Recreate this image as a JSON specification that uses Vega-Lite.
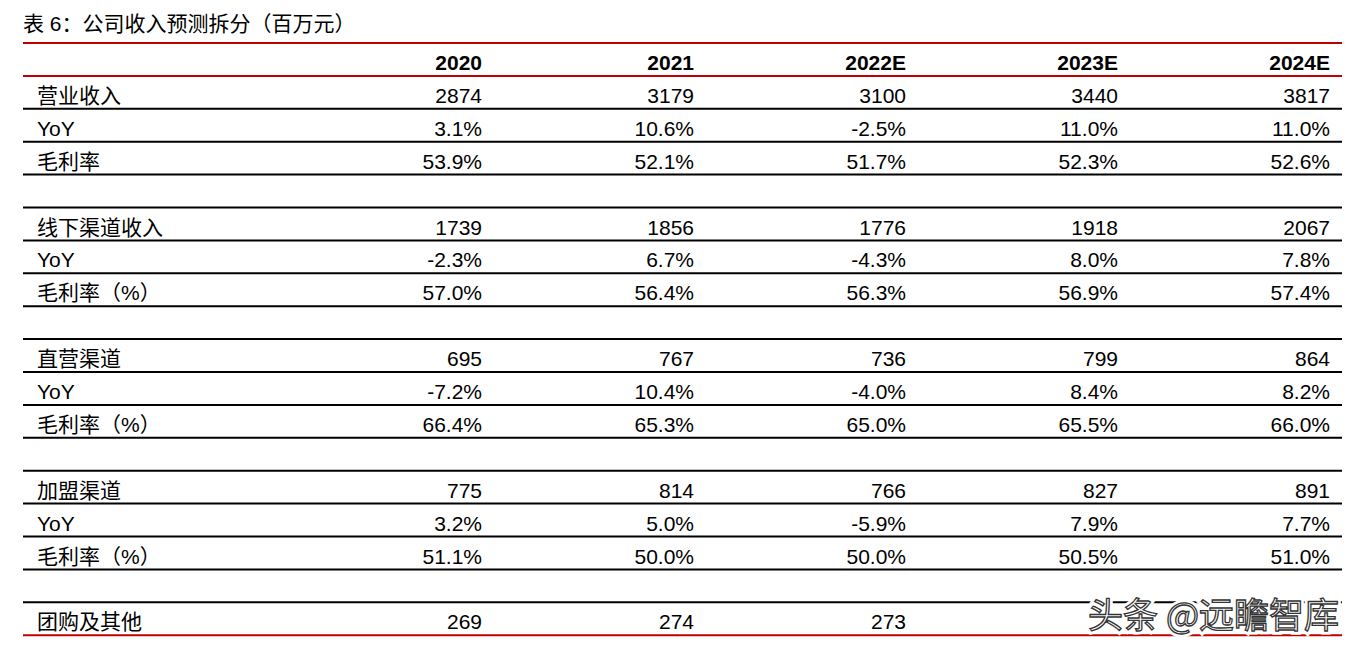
{
  "$schema": "https://vega.github.io/schema/vega-lite/v6.json",
  "width": 1359,
  "height": 654,
  "autosize": {"type": "fit", "contains": "padding"},
  "padding": {"left": 22, "right": 16, "top": 0, "bottom": 0},
  "background": "white",
  "config": {"view": {"stroke": null}},
  "datasets": {
    "columns": [
      {"year": "2020", "col": 1},
      {"year": "2021", "col": 2},
      {"year": "2022E", "col": 3},
      {"year": "2023E", "col": 4},
      {"year": "2024E", "col": 5}
    ],
    "items": [
      {"row": 1, "item": "营业收入"},
      {"row": 2, "item": "YoY"},
      {"row": 3, "item": "毛利率"},
      {"row": 5, "item": "线下渠道收入"},
      {"row": 6, "item": "YoY"},
      {"row": 7, "item": "毛利率（%）"},
      {"row": 9, "item": "直营渠道"},
      {"row": 10, "item": "YoY"},
      {"row": 11, "item": "毛利率（%）"},
      {"row": 13, "item": "加盟渠道"},
      {"row": 14, "item": "YoY"},
      {"row": 15, "item": "毛利率（%）"},
      {"row": 17, "item": "团购及其他"}
    ],
    "cells": [
      {"row": 1, "year": "2020", "value": "2874"},
      {"row": 1, "year": "2021", "value": "3179"},
      {"row": 1, "year": "2022E", "value": "3100"},
      {"row": 1, "year": "2023E", "value": "3440"},
      {"row": 1, "year": "2024E", "value": "3817"},
      {"row": 2, "year": "2020", "value": "3.1%"},
      {"row": 2, "year": "2021", "value": "10.6%"},
      {"row": 2, "year": "2022E", "value": "-2.5%"},
      {"row": 2, "year": "2023E", "value": "11.0%"},
      {"row": 2, "year": "2024E", "value": "11.0%"},
      {"row": 3, "year": "2020", "value": "53.9%"},
      {"row": 3, "year": "2021", "value": "52.1%"},
      {"row": 3, "year": "2022E", "value": "51.7%"},
      {"row": 3, "year": "2023E", "value": "52.3%"},
      {"row": 3, "year": "2024E", "value": "52.6%"},
      {"row": 5, "year": "2020", "value": "1739"},
      {"row": 5, "year": "2021", "value": "1856"},
      {"row": 5, "year": "2022E", "value": "1776"},
      {"row": 5, "year": "2023E", "value": "1918"},
      {"row": 5, "year": "2024E", "value": "2067"},
      {"row": 6, "year": "2020", "value": "-2.3%"},
      {"row": 6, "year": "2021", "value": "6.7%"},
      {"row": 6, "year": "2022E", "value": "-4.3%"},
      {"row": 6, "year": "2023E", "value": "8.0%"},
      {"row": 6, "year": "2024E", "value": "7.8%"},
      {"row": 7, "year": "2020", "value": "57.0%"},
      {"row": 7, "year": "2021", "value": "56.4%"},
      {"row": 7, "year": "2022E", "value": "56.3%"},
      {"row": 7, "year": "2023E", "value": "56.9%"},
      {"row": 7, "year": "2024E", "value": "57.4%"},
      {"row": 9, "year": "2020", "value": "695"},
      {"row": 9, "year": "2021", "value": "767"},
      {"row": 9, "year": "2022E", "value": "736"},
      {"row": 9, "year": "2023E", "value": "799"},
      {"row": 9, "year": "2024E", "value": "864"},
      {"row": 10, "year": "2020", "value": "-7.2%"},
      {"row": 10, "year": "2021", "value": "10.4%"},
      {"row": 10, "year": "2022E", "value": "-4.0%"},
      {"row": 10, "year": "2023E", "value": "8.4%"},
      {"row": 10, "year": "2024E", "value": "8.2%"},
      {"row": 11, "year": "2020", "value": "66.4%"},
      {"row": 11, "year": "2021", "value": "65.3%"},
      {"row": 11, "year": "2022E", "value": "65.0%"},
      {"row": 11, "year": "2023E", "value": "65.5%"},
      {"row": 11, "year": "2024E", "value": "66.0%"},
      {"row": 13, "year": "2020", "value": "775"},
      {"row": 13, "year": "2021", "value": "814"},
      {"row": 13, "year": "2022E", "value": "766"},
      {"row": 13, "year": "2023E", "value": "827"},
      {"row": 13, "year": "2024E", "value": "891"},
      {"row": 14, "year": "2020", "value": "3.2%"},
      {"row": 14, "year": "2021", "value": "5.0%"},
      {"row": 14, "year": "2022E", "value": "-5.9%"},
      {"row": 14, "year": "2023E", "value": "7.9%"},
      {"row": 14, "year": "2024E", "value": "7.7%"},
      {"row": 15, "year": "2020", "value": "51.1%"},
      {"row": 15, "year": "2021", "value": "50.0%"},
      {"row": 15, "year": "2022E", "value": "50.0%"},
      {"row": 15, "year": "2023E", "value": "50.5%"},
      {"row": 15, "year": "2024E", "value": "51.0%"},
      {"row": 17, "year": "2020", "value": "269"},
      {"row": 17, "year": "2021", "value": "274"},
      {"row": 17, "year": "2022E", "value": "273"}
    ],
    "lines": [
      {"line": 0, "kind": "accent"},
      {"line": 1, "kind": "accent"},
      {"line": 2, "kind": "rule"},
      {"line": 3, "kind": "rule"},
      {"line": 4, "kind": "rule"},
      {"line": 5, "kind": "rule"},
      {"line": 6, "kind": "rule"},
      {"line": 7, "kind": "rule"},
      {"line": 8, "kind": "rule"},
      {"line": 9, "kind": "rule"},
      {"line": 10, "kind": "rule"},
      {"line": 11, "kind": "rule"},
      {"line": 12, "kind": "rule"},
      {"line": 13, "kind": "rule"},
      {"line": 14, "kind": "rule"},
      {"line": 15, "kind": "rule"},
      {"line": 16, "kind": "rule"},
      {"line": 17, "kind": "rule"},
      {"line": 18, "kind": "accent"}
    ],
    "caption": [{"text": "表 6：公司收入预测拆分（百万元）"}],
    "watermark": [{"text": "头条 @远瞻智库"}]
  },
  "layer": [
    {
      "data": {"name": "lines"},
      "transform": [{"filter": "datum.kind === 'rule'"}],
      "mark": {"type": "rule", "color": "#000000", "strokeWidth": 2},
      "encoding": {
        "y": {"field": "line", "type": "quantitative", "axis": null,
              "scale": {"domain": [-1.307, 18.571], "reverse": true, "nice": false, "zero": false}}
      }
    },
    {
      "data": {"name": "lines"},
      "transform": [{"filter": "datum.kind === 'accent'"}],
      "mark": {"type": "rule", "color": "#C00000", "strokeWidth": 2},
      "encoding": {
        "y": {"field": "line", "type": "quantitative", "axis": null,
              "scale": {"domain": [-1.307, 18.571], "reverse": true, "nice": false, "zero": false}}
      }
    },
    {
      "data": {"name": "caption"},
      "mark": {"type": "text", "align": "left", "baseline": "alphabetic", "dy": 21, "dx": -14,
               "font": "Liberation Sans, Noto Sans CJK SC", "fontSize": 21, "color": "#000000"},
      "encoding": {
        "text": {"field": "text"},
        "x": {"datum": 0, "type": "quantitative", "axis": null,
              "scale": {"domain": [0, 1, 5], "range": [14, 459, 1307], "nice": false, "zero": false}},
        "y": {"datum": -1, "type": "quantitative", "axis": null,
              "scale": {"domain": [-1.307, 18.571], "reverse": true, "nice": false, "zero": false}}
      }
    },
    {
      "data": {"name": "columns"},
      "mark": {"type": "text", "align": "right", "baseline": "alphabetic", "dy": 27,
               "font": "Liberation Sans", "fontSize": 21, "fontWeight": "bold", "color": "#000000"},
      "encoding": {
        "text": {"field": "year"},
        "x": {"field": "col", "type": "quantitative", "axis": null,
              "scale": {"domain": [0, 1, 5], "range": [14, 459, 1307], "nice": false, "zero": false}},
        "y": {"datum": 0, "type": "quantitative", "axis": null,
              "scale": {"domain": [-1.307, 18.571], "reverse": true, "nice": false, "zero": false}}
      }
    },
    {
      "data": {"name": "items"},
      "mark": {"type": "text", "align": "left", "baseline": "alphabetic", "dy": 27,
               "font": "Liberation Sans, Noto Sans CJK SC", "fontSize": 21, "color": "#000000"},
      "encoding": {
        "text": {"field": "item"},
        "x": {"datum": 0, "type": "quantitative", "axis": null,
              "scale": {"domain": [0, 1, 5], "range": [14, 459, 1307], "nice": false, "zero": false}},
        "y": {"field": "row", "type": "quantitative", "axis": null,
              "scale": {"domain": [-1.307, 18.571], "reverse": true, "nice": false, "zero": false}}
      }
    },
    {
      "data": {"name": "cells"},
      "transform": [{"lookup": "year", "from": {"data": {"name": "columns"}, "key": "year", "fields": ["col"]}}],
      "mark": {"type": "text", "align": "right", "baseline": "alphabetic", "dy": 27,
               "font": "Liberation Sans", "fontSize": 21, "color": "#000000"},
      "encoding": {
        "text": {"field": "value"},
        "x": {"field": "col", "type": "quantitative", "axis": null,
              "scale": {"domain": [0, 1, 5], "range": [14, 459, 1307], "nice": false, "zero": false}},
        "y": {"field": "row", "type": "quantitative", "axis": null,
              "scale": {"domain": [-1.307, 18.571], "reverse": true, "nice": false, "zero": false}}
      }
    },
    {
      "data": {"name": "watermark"},
      "mark": {"type": "text", "align": "right", "baseline": "alphabetic", "dy": 26, "dx": 9,
               "font": "Noto Sans CJK SC", "fontSize": 35, "fill": "white", "stroke": "white", "strokeWidth": 7},
      "encoding": {
        "text": {"field": "text"},
        "x": {"datum": 5, "type": "quantitative", "axis": null,
              "scale": {"domain": [0, 1, 5], "range": [14, 459, 1307], "nice": false, "zero": false}},
        "y": {"datum": 17, "type": "quantitative", "axis": null,
              "scale": {"domain": [-1.307, 18.571], "reverse": true, "nice": false, "zero": false}}
      }
    },
    {
      "data": {"name": "watermark"},
      "mark": {"type": "text", "align": "right", "baseline": "alphabetic", "dy": 26, "dx": 9,
               "font": "Noto Sans CJK SC", "fontSize": 35, "fill": "white", "stroke": "#333333", "strokeWidth": 1.3},
      "encoding": {
        "text": {"field": "text"},
        "x": {"datum": 5, "type": "quantitative", "axis": null,
              "scale": {"domain": [0, 1, 5], "range": [14, 459, 1307], "nice": false, "zero": false}},
        "y": {"datum": 17, "type": "quantitative", "axis": null,
              "scale": {"domain": [-1.307, 18.571], "reverse": true, "nice": false, "zero": false}}
      }
    }
  ]
}
